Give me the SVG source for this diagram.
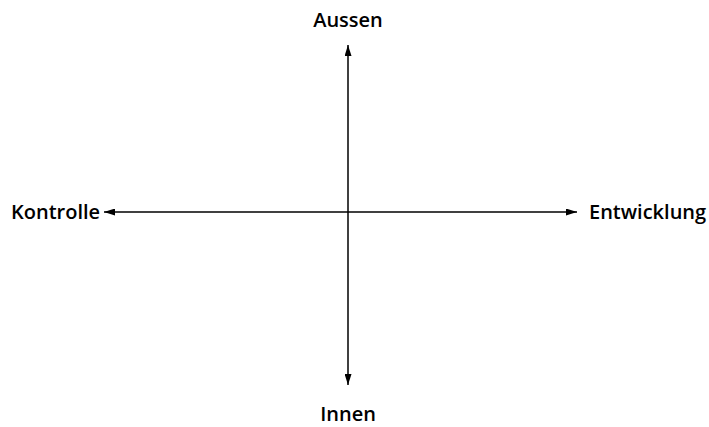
<svg xmlns="http://www.w3.org/2000/svg" width="709" height="427" viewBox="0 0 709 427">
<style>
.lbl{font-family:"Open Sans","Liberation Sans",sans-serif;font-size:20px;fill:#000;font-weight:600}
.ax{stroke:#000;stroke-width:1.5;fill:none}
</style>
<defs>
<marker id="ah" viewBox="0 0 11 7" refX="11" refY="3.5" markerWidth="11" markerHeight="7" markerUnits="userSpaceOnUse" orient="auto-start-reverse">
<path d="M0,0 L11,3.5 L0,7 Z" fill="#000"/>
</marker>
</defs>
<rect width="709" height="427" fill="#fff"/>
<g id="connectors">
<line class="ax" x1="348" y1="45" x2="348" y2="385" marker-start="url(#ah)" marker-end="url(#ah)"/>
<line class="ax" x1="104" y1="212" x2="577" y2="212" marker-start="url(#ah)" marker-end="url(#ah)"/>
</g>
<g id="aussen"><text class="lbl" x="348" y="27" text-anchor="middle">Aussen</text></g>
<g id="innen"><text class="lbl" x="348" y="421" text-anchor="middle">Innen</text></g>
<g id="kontrolle"><text class="lbl" x="11" y="219">Kontrolle</text></g>
<g id="entwicklung"><text class="lbl" x="589" y="219">Entwicklung</text></g>
</svg>
